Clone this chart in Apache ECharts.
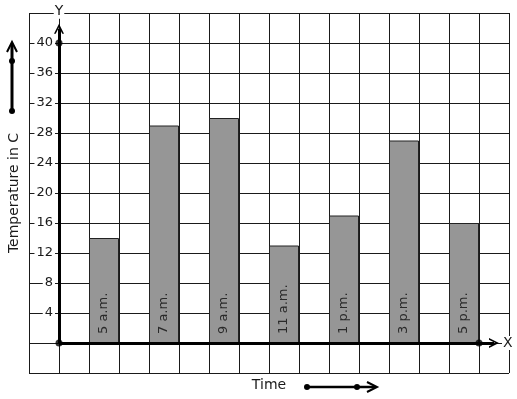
<!DOCTYPE html>
<html>
<head>
<meta charset="utf-8">
<script src="https://cdn.jsdelivr.net/npm/echarts@6/dist/echarts.min.js"></script>
<style>html,body{margin:0;padding:0;background:#fff}#c{width:517px;height:399px}</style>
</head>
<body>
<div id="c"></div>
<script>
const categories = ['5 a.m.', '7 a.m.', '9 a.m.', '11 a.m.', '1 p.m.', '3 p.m.', '5 p.m.'];
const temperatures = [14, 29, 30, 13, 17, 27, 16];
const yTickLabels = [4, 8, 12, 16, 20, 24, 28, 32, 36, 40];
const axisDots = [[0, 0], [0, 40], [14, 0]];

const FONT = 'DejaVu Sans';
const INK = '#1a1a1a';
const chevronUp = 'path://M0,10 L5,0 L10,10 L8.3,10 L5,3.6 L1.7,10 Z';

const chart = echarts.init(document.getElementById('c'), null, {renderer: 'canvas'});
chart.setOption({
  animation: false,
  backgroundColor: '#fff',
  grid: {left: 29, right: 8, top: 13, bottom: 26, containLabel: false, outerBoundsMode: 'none'},
  xAxis: {
    type: 'value', min: -1, max: 15, interval: 1,
    axisLine: {show: false, onZero: false},
    axisTick: {show: false},
    axisLabel: {show: false},
    splitLine: {show: true, lineStyle: {color: INK, width: 1}},
    name: 'Time', nameLocation: 'middle', nameGap: 5, nameMoveOverlap: false,
    nameTextStyle: {fontFamily: FONT, fontSize: 14, color: INK}
  },
  yAxis: {
    type: 'value', min: -4, max: 44, interval: 4,
    axisLine: {show: false, onZero: false},
    axisTick: {show: false},
    axisLabel: {
      show: true, inside: true, align: 'right', margin: 26,
      fontFamily: FONT, fontSize: 13, color: INK,
      backgroundColor: '#fff', padding: [0, 2],
      formatter: v => yTickLabels.includes(v) ? String(v) : ''
    },
    splitLine: {show: true, lineStyle: {color: INK, width: 1}},
    name: 'Temperature in C', nameLocation: 'middle', nameGap: 8, nameMoveOverlap: false,
    nameTextStyle: {fontFamily: FONT, fontSize: 14, color: INK}
  },
  series: [
    {
      type: 'bar',
      data: temperatures.map((t, i) => [2 * i + 1.5, t]),
      barWidth: 30,
      itemStyle: {color: '#969696', borderColor: '#222', borderWidth: 1},
      label: {
        show: true, position: 'insideBottom', rotate: 90, distance: 9,
        align: 'left', verticalAlign: 'middle',
        fontFamily: FONT, fontSize: 13, color: '#2a2a2a',
        formatter: p => categories[p.dataIndex]
      },
      markLine: {
        silent: true, animation: false,
        symbol: ['none', chevronUp], symbolSize: [10, 10],
        lineStyle: {color: '#000', width: 3, type: 'solid'},
        label: {
          show: true, position: 'end', fontFamily: FONT, fontSize: 14, color: INK,
          backgroundColor: '#fff', padding: [0, 1]
        },
        data: [
          [{coord: [0, 0], label: {formatter: 'Y', distance: 10}}, {coord: [0, 41.9]}],
          [{coord: [0, 0], label: {formatter: 'X', distance: 8}}, {coord: [14.5, 0]}]
        ]
      }
    },
    {
      type: 'scatter', data: axisDots, symbolSize: 7,
      itemStyle: {color: '#000'}, silent: true, z: 5
    }
  ],
  graphic: [
    {type: 'polyline', z: 100, shape: {points: [[12, 111], [12, 44]]}, style: {stroke: '#000', lineWidth: 3, fill: null}},
    {type: 'polyline', z: 100, shape: {points: [[7, 52], [12, 42], [17, 52]]}, style: {stroke: '#000', lineWidth: 2, fill: null}},
    {type: 'circle', z: 100, shape: {cx: 12, cy: 61, r: 3}, style: {fill: '#000'}},
    {type: 'circle', z: 100, shape: {cx: 12, cy: 111, r: 3}, style: {fill: '#000'}},
    {type: 'polyline', z: 100, shape: {points: [[307, 387], [375, 387]]}, style: {stroke: '#000', lineWidth: 2.5, fill: null}},
    {type: 'polyline', z: 100, shape: {points: [[367, 382], [377, 387], [367, 392]]}, style: {stroke: '#000', lineWidth: 2, fill: null}},
    {type: 'circle', z: 100, shape: {cx: 307, cy: 387, r: 3}, style: {fill: '#000'}},
    {type: 'circle', z: 100, shape: {cx: 357, cy: 387, r: 3}, style: {fill: '#000'}}
  ]
});
</script>
</body>
</html>
